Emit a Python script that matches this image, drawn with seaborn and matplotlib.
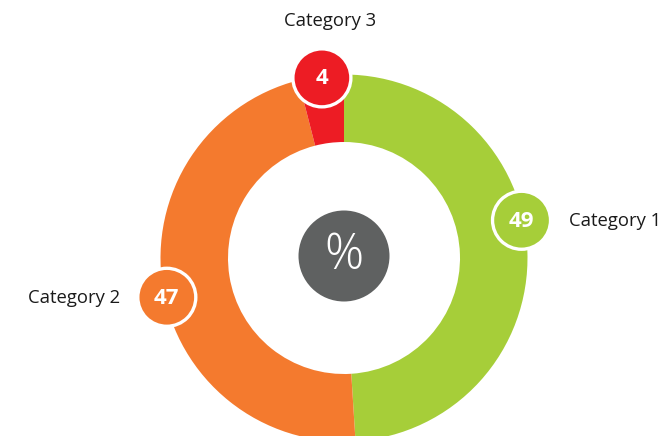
import matplotlib
matplotlib.use('Agg')

import matplotlib.pyplot as plt
import numpy as np
import seaborn as sns
from matplotlib.patches import Circle

categories = ['Category 1', 'Category 2', 'Category 3']
values = [49, 47, 4]
colors = ['#a6ce39', '#f47a2e', '#ed1c24']

# where the number badges sit on the outer rim (degrees, counter-clockwise from east)
badge_angles = [12, 192.5, 97]


def main():
    sns.set_theme(style='white')
    plt.rcParams['font.family'] = ['Open Sans', 'DejaVu Sans']

    W, H = 664, 436
    fig = plt.figure(figsize=(W / 100, H / 100), dpi=100)
    ax = fig.add_axes([0, 0, 1, 1])

    cx, cy = 344, H - 258
    r_out, r_in = 183.5, 116

    ax.pie(values, colors=colors, startangle=90, counterclock=False,
           center=(cx, cy), radius=r_out,
           wedgeprops=dict(width=r_out - r_in, linewidth=0))

    # centre disc with percent sign
    ax.add_patch(Circle((cx, cy + 2), 45.5, facecolor='#5f6161', edgecolor='none', zorder=3))
    ax.text(cx, cy + 2, '%', ha='center', va='center', color='white',
            fontsize=35, fontweight='light', zorder=4)

    # badges + category labels
    for cat, val, col, ang in zip(categories, values, colors, badge_angles):
        a = np.deg2rad(ang)
        bx = cx + (r_out - 2) * np.cos(a)
        by = cy + (r_out - 2) * np.sin(a)
        ax.add_patch(Circle((bx, by), 29, facecolor=col, edgecolor='white',
                            linewidth=2.4, zorder=5))
        ax.text(bx, by - 1, str(val), ha='center', va='center', color='white',
                fontsize=16, fontweight='bold', zorder=6)
        if cat == 'Category 1':
            ax.text(bx + 47, by - 1, cat, ha='left', va='center', fontsize=13.3, color='#1a1a1a')
        elif cat == 'Category 2':
            ax.text(bx - 47, by - 1, cat, ha='right', va='center', fontsize=13.3, color='#1a1a1a')
        else:
            ax.text(bx + 8, by + 57, cat, ha='center', va='center', fontsize=13.3, color='#1a1a1a')

    ax.set_xlim(0, W)
    ax.set_ylim(0, H)
    ax.set_aspect('equal')
    ax.axis('off')

    fig.savefig('out.png', dpi=100)
    plt.close(fig)


if __name__ == '__main__':
    main()
